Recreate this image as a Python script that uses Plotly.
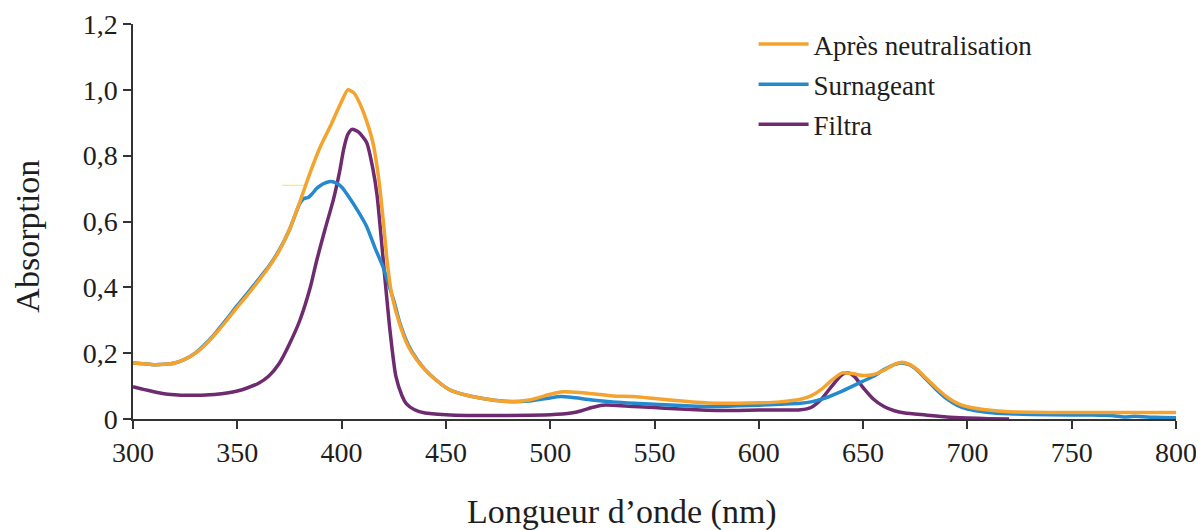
import plotly.graph_objects as go

# ---- data ----
wl_apres = [300, 305, 310, 315, 320, 325, 330, 335, 340, 345, 350, 355, 360, 365, 370, 375,
            380, 385, 390, 395, 400, 403, 406, 409, 412, 415, 418, 420, 422, 424, 428, 432,
            436, 440, 445, 452, 460, 470, 480, 490, 500, 505, 510, 520, 530, 540, 550, 560,
            570, 580, 590, 600, 610, 620, 625, 630, 635, 640, 645, 650, 655, 660, 665, 668,
            672, 676, 680, 685, 690, 695, 700, 710, 720, 740, 760, 780, 800]
abs_apres = [0.170, 0.168, 0.165, 0.166, 0.170, 0.182, 0.200, 0.228, 0.262, 0.300, 0.340, 0.378,
             0.418, 0.460, 0.510, 0.575, 0.660, 0.750, 0.830, 0.895, 0.965, 1.000, 0.990, 0.955,
             0.905, 0.840, 0.720, 0.600, 0.470, 0.380, 0.285, 0.220, 0.180, 0.150, 0.120, 0.088,
             0.072, 0.060, 0.053, 0.058, 0.075, 0.082, 0.082, 0.077, 0.070, 0.068, 0.062, 0.056,
             0.051, 0.048, 0.048, 0.049, 0.052, 0.060, 0.070, 0.090, 0.118, 0.140, 0.138, 0.132,
             0.135, 0.148, 0.166, 0.172, 0.167, 0.150, 0.125, 0.095, 0.068, 0.048, 0.037, 0.027,
             0.022, 0.020, 0.020, 0.020, 0.020]

wl_surn = [300, 305, 310, 315, 320, 325, 330, 335, 340, 345, 350, 355, 360, 365, 370, 375,
           380, 382, 384, 386, 388, 391, 394, 397, 400, 404, 408, 412, 416, 420, 423, 425,
           428, 432, 436, 440, 445, 452, 460, 470, 480, 490, 500, 505, 510, 520, 530, 540,
           550, 560, 570, 580, 590, 600, 610, 620, 625, 630, 640, 650, 655, 660, 665, 668,
           672, 676, 680, 685, 690, 695, 700, 710, 720, 740, 760, 770, 775, 780, 790, 800]
abs_surn = [0.170, 0.168, 0.165, 0.166, 0.170, 0.182, 0.201, 0.230, 0.265, 0.304, 0.345, 0.383,
            0.423, 0.463, 0.512, 0.575, 0.655, 0.670, 0.673, 0.685, 0.700, 0.714, 0.721, 0.718,
            0.705, 0.670, 0.630, 0.585, 0.520, 0.460, 0.400, 0.360, 0.290, 0.225, 0.182, 0.150,
            0.120, 0.088, 0.072, 0.060, 0.053, 0.055, 0.064, 0.068, 0.066, 0.058, 0.052, 0.048,
            0.045, 0.042, 0.039, 0.038, 0.040, 0.042, 0.045, 0.048, 0.052, 0.060, 0.085, 0.115,
            0.130, 0.150, 0.165, 0.170, 0.165, 0.148, 0.122, 0.090, 0.062, 0.042, 0.030, 0.020,
            0.016, 0.013, 0.012, 0.010, 0.006, 0.008, 0.005, 0.004]

wl_filtra = [300, 305, 310, 315, 320, 325, 330, 335, 340, 345, 350, 355, 360, 365, 370, 375,
             380, 385, 388, 392, 396, 399, 401, 403, 405, 408, 412, 415, 417, 420, 423, 426,
             429, 431, 435, 440, 450, 460, 480, 500, 510, 515, 520, 525, 530, 540, 550, 560,
             570, 580, 590, 600, 610, 620, 625, 630, 635, 640, 643, 646, 650, 655, 660, 665,
             670, 680, 690, 700, 710, 720]
abs_filtra = [0.098, 0.090, 0.083, 0.077, 0.074, 0.072, 0.072, 0.073, 0.075, 0.079, 0.085, 0.095,
              0.108, 0.130, 0.168, 0.228, 0.300, 0.400, 0.480, 0.575, 0.665, 0.750, 0.820, 0.865,
              0.880, 0.872, 0.840, 0.760, 0.680, 0.480, 0.280, 0.130, 0.070, 0.047, 0.028, 0.018,
              0.013, 0.011, 0.011, 0.013, 0.018, 0.025, 0.035, 0.042, 0.042, 0.038, 0.035, 0.031,
              0.028, 0.026, 0.026, 0.027, 0.027, 0.028, 0.035, 0.060, 0.100, 0.135, 0.140, 0.128,
              0.095, 0.060, 0.038, 0.025, 0.018, 0.012, 0.006, 0.003, 0.001, 0.000]

# small yellow stray mark visible in the reference
wl_mark = [371.5, 382]
abs_mark = [0.71, 0.71]

series_names = ["Après neutralisation", "Surnageant", "Filtra"]
x_ticks = [300, 350, 400, 450, 500, 550, 600, 650, 700, 750, 800]
y_ticks = [0, 0.2, 0.4, 0.6, 0.8, 1.0, 1.2]
y_tick_text = ["0", "0,2", "0,4", "0,6", "0,8", "1,0", "1,2"]
x_title = "Longueur d’onde (nm)"
y_title = "Absorption"

# ---- styles ----
ORANGE = "#F3A32E"
BLUE = "#2589CF"
PURPLE = "#6E2B70"
FONT = "Liberation Serif"
TXT = "#1e1e1e"

fig = go.Figure()
fig.add_trace(go.Scatter(x=wl_mark, y=abs_mark, mode="lines", showlegend=False,
                         line=dict(color="#F2E45C", width=1), hoverinfo="skip"))
fig.add_trace(go.Scatter(x=wl_filtra, y=abs_filtra, mode="lines", name=series_names[2],
                         line=dict(color=PURPLE, width=3.5, shape="spline", smoothing=0.6),
                         legendrank=3, legendgroup="c"))
fig.add_trace(go.Scatter(x=wl_surn, y=abs_surn, mode="lines", name=series_names[1],
                         line=dict(color=BLUE, width=3.5, shape="spline", smoothing=0.6),
                         legendrank=2, legendgroup="b"))
fig.add_trace(go.Scatter(x=wl_apres, y=abs_apres, mode="lines", name=series_names[0],
                         line=dict(color=ORANGE, width=3.5, shape="spline", smoothing=0.6),
                         legendrank=1, legendgroup="a"))

# the page body has an 8px default margin, so the figure is sized to fit the window
fig.update_layout(
    width=1196, height=522,
    margin=dict(l=125, r=28, t=16, b=111, autoexpand=False),
    paper_bgcolor="white", plot_bgcolor="white",
    font=dict(family=FONT, size=28, color=TXT),
    legend=dict(x=0.595, y=1.01, xanchor="left", yanchor="top",
                font=dict(family=FONT, size=27, color=TXT),
                bgcolor="rgba(0,0,0,0)", itemwidth=50, tracegroupgap=2),
    annotations=[
        dict(text=x_title, xref="paper", yref="paper", x=0.4688, y=-0.235,
             xanchor="center", yanchor="middle", showarrow=False,
             font=dict(family=FONT, size=34, color=TXT)),
        dict(text=y_title, xref="paper", yref="paper", x=-0.1015, y=0.462,
             xanchor="center", yanchor="middle", showarrow=False, textangle=-90,
             font=dict(family=FONT, size=34, color=TXT)),
    ],
)
fig.update_xaxes(range=[300, 800], tickvals=x_ticks, showgrid=False, zeroline=False,
                 showline=True, linecolor="#333333", linewidth=1.5,
                 ticks="outside", ticklen=8, tickwidth=1.5, tickcolor="#333333",
                 tickfont=dict(family=FONT, size=28, color=TXT))
fig.update_yaxes(range=[0, 1.2], tickvals=y_ticks, ticktext=y_tick_text,
                 showgrid=False, zeroline=False,
                 showline=True, linecolor="#333333", linewidth=1.5,
                 ticks="outside", ticklen=8, tickwidth=1.5, tickcolor="#333333",
                 tickfont=dict(family=FONT, size=28, color=TXT))

fig.write_html("out.html")
